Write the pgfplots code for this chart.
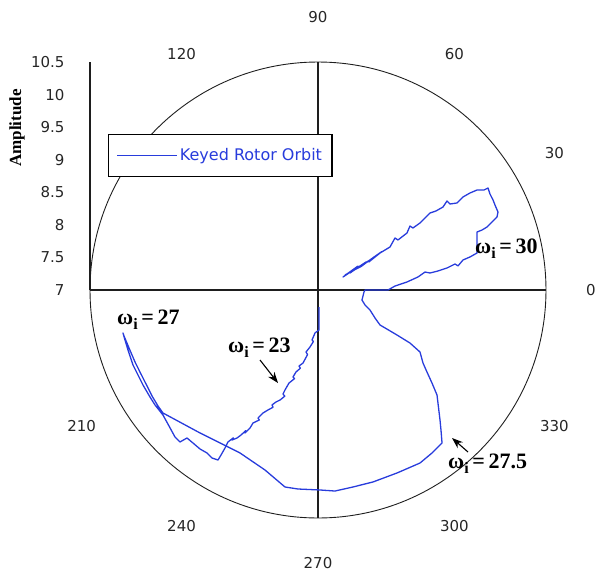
\documentclass[border=0pt]{standalone}
\usepackage{pgfplots}
\pgfplotsset{compat=1.18}
\usetikzlibrary{arrows.meta}
\usepackage{fontspec}
\setmainfont{DejaVu Sans}
\newfontfamily\annfont{Liberation Serif}
\definecolor{orbitblue}{RGB}{40,60,220}
\definecolor{gridblack}{RGB}{30,30,30}
\newcommand{\omi}[1]{{\annfont\bfseries\fontsize{22}{24}\selectfont ω\raisebox{-5pt}{\fontsize{16}{16}\selectfont i}\,=\,#1}}
\begin{document}
\begin{tikzpicture}[x=1pt,y=1pt]
\useasboundingbox (-318,-286) rectangle (278,290);
\begin{axis}[
  anchor=origin, at={(0,0)},
  x=65.14pt, y=65.14pt,
  xmin=-3.5, xmax=3.5, ymin=-3.5, ymax=3.5,
  axis line style={draw=none},
  xtick=\empty,
  ytick={0,0.5,1,1.5,2,2.5,3,3.5},
  yticklabels={7,7.5,8,8.5,9,9.5,10,10.5},
  major tick length=0pt,
  /pgf/number format/assume math mode=true,
  yticklabel style={font=\fontsize{15}{15}\selectfont, text=black!85, anchor=east, xshift=-22pt},
  clip=false,
  legend style={at={(axis cs:-3.224,2.395)}, anchor=north west, draw=black, line width=1.3pt,
    fill=white, inner xsep=8pt, inner ysep=12pt, font=\fontsize{16}{18}\selectfont,
    text=orbitblue, cells={anchor=west}},
  legend image code/.code={\draw[orbitblue, line width=1.3pt] (0pt,0pt) -- (60pt,0pt);},
]
% polar grid
\draw[gridblack, line width=0.9pt] (axis cs:0,0) circle [radius=3.5];
\draw[gridblack, line width=1.2pt] (axis cs:-3.5,0) -- (axis cs:3.5,0);
\draw[gridblack, line width=1.2pt] (axis cs:0,-3.5) -- (axis cs:0,3.5);
\draw[gridblack, line width=1.2pt] (axis cs:-3.5,0) -- (axis cs:-3.5,3.5);

\addplot[orbitblue, line width=1.3pt, line join=round] coordinates {
(0.015,-0.261) (0.015,-0.614) (-0.046,-0.660) (-0.092,-0.768) (-0.070,-0.790) (-0.123,-0.875)
(-0.184,-0.952) (-0.160,-0.990) (-0.230,-1.121) (-0.292,-1.167) (-0.270,-1.200) (-0.338,-1.259)
(-0.384,-1.336) (-0.360,-1.360) (-0.445,-1.428) (-0.507,-1.535) (-0.537,-1.597) (-0.510,-1.630)
(-0.583,-1.689) (-0.645,-1.719) (-0.706,-1.765) (-0.690,-1.800) (-0.768,-1.842) (-0.844,-1.888)
(-0.921,-1.965) (-0.900,-1.995) (-0.998,-2.042) (-1.044,-2.119) (-1.121,-2.195) (-1.110,-2.160)
(-1.182,-2.226) (-1.243,-2.272) (-1.320,-2.303) (-1.300,-2.270) (-1.382,-2.333) (-1.428,-2.426)
(-1.489,-2.533) (-1.535,-2.610) (-1.627,-2.579) (-1.704,-2.502) (-1.811,-2.441) (-1.919,-2.349)
(-2.011,-2.272) (-2.119,-2.333) (-2.195,-2.257) (-2.287,-2.088) (-2.380,-1.919)
(-2.502,-1.765) (-2.579,-1.643) (-2.687,-1.458) (-2.779,-1.274) (-2.840,-1.151) (-2.917,-0.921)
(-2.963,-0.768) (-2.994,-0.660) (-2.978,-0.706) (-2.901,-0.890) (-2.809,-1.105) (-2.733,-1.259)
(-2.640,-1.443) (-2.548,-1.627) (-2.456,-1.781) (-2.380,-1.888)
(-1.811,-2.195) (-1.197,-2.502) (-0.814,-2.763) (-0.507,-3.024) (-0.307,-3.055) (0.031,-3.070)
(0.261,-3.086) (0.537,-3.024) (0.844,-2.947) (1.213,-2.809) (1.566,-2.656) (1.750,-2.502)
(1.904,-2.349) (1.888,-2.149) (1.873,-1.996) (1.827,-1.612) (1.750,-1.428) (1.673,-1.259)
(1.612,-1.121) (1.566,-0.952) (1.412,-0.814) (1.213,-0.691) (0.952,-0.537) (0.875,-0.430)
(0.798,-0.307) (0.722,-0.230) (0.675,-0.154) (0.706,-0.031) (0.722,0) (1.075,0)
(1.182,0.061) (1.366,0.123) (1.535,0.200) (1.643,0.276) (1.719,0.261) (1.842,0.292)
(1.980,0.338) (2.103,0.399) (2.150,0.370) (2.226,0.461) (2.333,0.507) (2.441,0.568)
(2.441,0.691) (2.441,0.798) (2.441,0.890) (2.518,0.921) (2.594,0.967) (2.671,1.044)
(2.748,1.121) (2.763,1.197) (2.717,1.305) (2.687,1.382) (2.640,1.474) (2.610,1.566)
(2.548,1.535) (2.441,1.535) (2.333,1.489) (2.226,1.428) (2.134,1.336) (2.026,1.320)
(1.980,1.366) (1.919,1.274) (1.811,1.213) (1.719,1.182) (1.643,1.105) (1.566,1.029)
(1.458,0.952) (1.412,0.982) (1.366,0.875) (1.228,0.768) (1.182,0.798) (1.105,0.660)
(0.952,0.568) (0.798,0.461) (0.645,0.368) (0.491,0.276) (0.384,0.200)
(0.522,0.292) (0.445,0.246) (0.614,0.368) (0.491,0.261) (0.737,0.430) (0.599,0.338)
(0.829,0.476) (0.706,0.399) (0.900,0.530) (0.780,0.430) (0.980,0.590) (0.850,0.500)
(0.660,0.360) (0.540,0.300) (0.414,0.230)
};
\addlegendentry{Keyed Rotor Orbit}

% annotations
\node[anchor=base west, inner sep=0pt] at (axis cs:2.410,0.568) {\omi{30}};
\node[anchor=base west, inner sep=0pt] at (axis cs:-3.086,-0.537) {\omi{27}};
\node[anchor=base west, inner sep=0pt] at (axis cs:-1.382,-0.967) {\omi{23}};
\node[anchor=base west, inner sep=0pt] at (axis cs:1.996,-2.733) {\omi{27.5}};
\draw[-{Stealth[length=11pt,width=8pt]}, line width=1.1pt] (axis cs:-0.890,-1.075) -- (axis cs:-0.614,-1.428);
\draw[-{Stealth[length=11pt,width=8pt]}, line width=1.1pt] (axis cs:2.303,-2.487) -- (axis cs:2.057,-2.272);

% angle labels
\begin{scope}[every node/.style={font=\fontsize{15}{15}\selectfont, text=black!85}]
\node at (axis cs:4.19,0) {0};
\node at (axis cs:3.629,2.095) {30};
\node at (axis cs:2.095,3.629) {60};
\node at (axis cs:0,4.19) {90};
\node at (axis cs:-2.095,3.629) {120};
\node at (axis cs:-3.629,-2.095) {210};
\node at (axis cs:-2.095,-3.629) {240};
\node at (axis cs:0,-4.19) {270};
\node at (axis cs:2.095,-3.629) {300};
\node at (axis cs:3.629,-2.095) {330};
\end{scope}
\node[rotate=90, font=\annfont\bfseries\fontsize{17}{17}\selectfont] at (axis cs:-4.621,2.487) {Amplitude};
\end{axis}
\end{tikzpicture}
\end{document}
